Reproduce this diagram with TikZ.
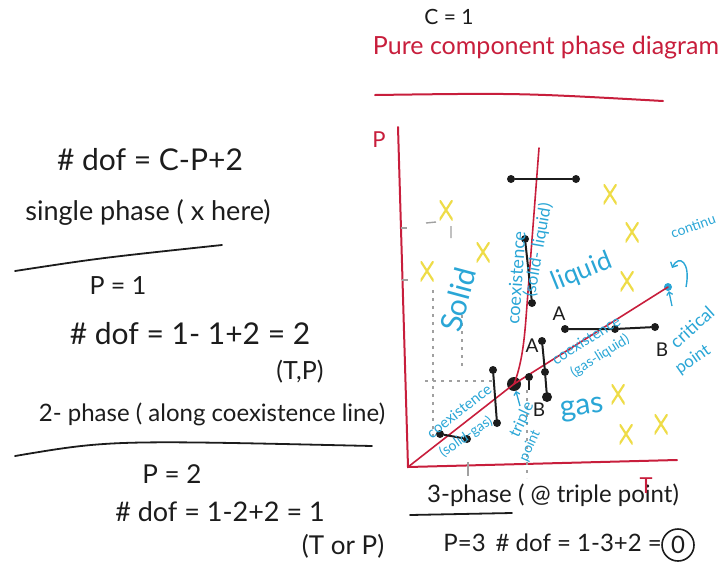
\documentclass[tikz,border=0pt]{standalone}
\usepackage{fontspec}
\setmainfont{Lato}
\usetikzlibrary{arrows.meta}
\definecolor{pen}{HTML}{1C1C1C}
\definecolor{redink}{HTML}{C81E3C}
\definecolor{cyanink}{HTML}{2AA6D6}
\definecolor{yellowink}{HTML}{EEDC48}
\definecolor{grayink}{HTML}{A0A0A0}
\tikzset{
  txt/.style={text=pen, inner sep=0pt, font=\fontsize{#1}{#1}\selectfont},
  txt/.default=24,
  rtxt/.style={text=redink, inner sep=0pt, font=\fontsize{#1}{#1}\selectfont},
  rtxt/.default=24,
  ctxt/.style={text=cyanink, inner sep=0pt, font=\fontsize{#1}{#1}\selectfont},
  ctxt/.default=16,
  penline/.style={draw=pen, line width=1.8pt, line cap=round},
  redline/.style={draw=redink, line width=1.6pt, line cap=round},
  bar/.style={draw=pen, line width=2pt, line cap=round},
  guide/.style={draw=grayink, line width=1.2pt, dash pattern=on 3pt off 5pt},
  bdot/.style={circle, fill=pen, minimum size=8pt, inner sep=0pt},
  bigdot/.style={circle, fill=pen, minimum size=14pt, inner sep=0pt},
  cdot/.style={circle, fill=cyanink, minimum size=8pt, inner sep=0pt},
  xm/.style={minimum width=13pt, minimum height=20pt, inner sep=0pt,
    path picture={\draw[yellowink, line width=2.2pt, line cap=round]
      (path picture bounding box.south west) -- (path picture bounding box.north east)
      (path picture bounding box.north west) -- (path picture bounding box.south east);}},
}
\begin{document}
\begin{tikzpicture}[x=1pt,y=-1pt]
\useasboundingbox (0,0) rectangle (723,582);

% ---------- title ----------
\node[txt=21] (c1) at (449,17) {C = 1};
\node[rtxt=25] (title) at (546,48) {Pure component phase diagram};
\coordinate (tu1) at (375,95);
\coordinate (tu2) at (663,101);
\draw[redline, line width=2pt] (tu1) .. controls (520,93) .. (tu2);

% ---------- left column ----------
\node[txt=30] (dof) at (150,160) {\# dof = C-P+2};
\node[txt=27] (single) at (148,212) {single phase ( x here)};
\coordinate (su1) at (15,271);
\coordinate (su2) at (222,245);
\draw[penline] (su1) .. controls (100,258) .. (su2);
\node[txt=25] (p1) at (118,286) {P = 1};
\node[txt=30] (dof1) at (190,334) {\# dof = 1- 1+2 = 2};
\node[txt=25] (tp) at (300,372) {(T,P)};
\node[txt=24] (two) at (212,414) {2- phase ( along coexistence line)};
\coordinate (tu3) at (15,456);
\coordinate (tu4) at (372,446);
\draw[penline] (tu3) .. controls (110,440) .. (tu4);
\node[txt=26] (p2) at (172,474) {P = 2};
\node[txt=27] (dof2) at (220,512) {\# dof = 1-2+2 = 1};
\node[txt=26] (torp) at (343,546) {(T or P)};

% ---------- bottom right ----------
\node[txt=24] (three) at (553,495) {3-phase ( @ triple point)};
\coordinate (th1) at (410,515);
\coordinate (th2) at (512,513);
\draw[penline] (th1) -- (th2);
\node[txt=24, anchor=east] (dof3) at (662,543) {P=3\hspace{10pt}\# dof = 1-3+2 =};
\node[txt=24, draw=pen, line width=1.6pt, circle, minimum size=32pt] (zero) at (678,545) {0};
\node[rtxt=22] (tlab) at (646,486) {T};

% ---------- axes ----------
\node[rtxt=22] (plab) at (379,140) {P};
\coordinate (ytop) at (398,127);
\coordinate (orig) at (408,467);
\coordinate (xend) at (677,460);
\draw[redline, line width=2pt] (ytop) -- (orig) -- (xend);

% guides
\coordinate (g1a) at (401,228); \coordinate (g1b) at (407,228);
\coordinate (g2a) at (402,280); \coordinate (g2b) at (408,280);
\draw[draw=grayink, line width=1.2pt] (g1a) -- (g1b) (g2a) -- (g2b);
\coordinate (g3a) at (426,223); \coordinate (g3b) at (436,222);
\coordinate (g4a) at (451,226); \coordinate (g4b) at (451,238);
\draw[draw=grayink, line width=1.4pt] (g3a) -- (g3b) (g4a) -- (g4b);
\coordinate (g5a) at (433,290); \coordinate (g5b) at (433,440);
\coordinate (g6a) at (462,315); \coordinate (g6b) at (462,366);
\coordinate (g7a) at (425,381); \coordinate (g7b) at (492,381);
\coordinate (g8a) at (527,390); \coordinate (g8b) at (527,478);
\coordinate (g9a) at (468,462); \coordinate (g9b) at (468,476);
\draw[guide] (g5a) -- (g5b) (g6a) -- (g6b) (g7a) -- (g7b) (g8a) -- (g8b);
\draw[draw=grayink, line width=1.2pt] (g9a) -- (g9b);

% ---------- phase boundaries ----------
\node[bigdot] (tpt) at (514,384) {};
\node[cdot] (cpt) at (668,287) {};
\coordinate (mtop) at (539,148);
\draw[redline] (orig) -- (tpt.center) -- (cpt.center);
\draw[redline] (tpt.center) .. controls (521,366) and (524,345) .. (526,318) -- (mtop);

% ---------- black tie lines ----------
\node[bdot] (h1) at (511,179) {};
\node[bdot] (h2) at (576,179) {};
\draw[bar] (h1) -- (h2);
\node[bdot] (m1) at (525,239) {};
\node[bdot] (m2) at (532,303) {};
\draw[bar] (m1) -- (m2);
\node[bdot] (ab1) at (565,329) {};
\node[bdot] (ab2) at (615,329) {};
\node[bdot] (ab3) at (655,327) {};
\draw[bar] (ab1) -- (ab2) -- (ab3);
\node[txt=19] (la1) at (559,314) {A};
\node[txt=19] (lb1) at (662,350) {B};
\node[bdot] (v1) at (542,341) {};
\node[bdot] (v2) at (545,372) {};
\node[bdot, minimum size=10pt] (v3) at (547,397) {};
\draw[bar] (v1) -- (v2) -- (v3);
\node[txt=19] (la2) at (532,346) {A};
\node[txt=19] (lb2) at (539,410) {B};
\node[bdot] (s1) at (493,370) {};
\node[bdot] (s2) at (497,423) {};
\draw[bar] (s1) -- (s2);
\node[bdot] (e1) at (440,434) {};
\node[bdot] (e2) at (467,439) {};
\draw[bar] (e1) -- (e2);
\node[bdot] (sm) at (529,377) {};
\coordinate (smb) at (529,390);
\draw[draw=pen, line width=1.2pt] (sm) -- (smb);

% ---------- yellow marks ----------
\node[xm] (x1) at (446,210) {};
\node[xm] (x2) at (427,271) {};
\node[xm] (x3) at (483,252) {};
\node[xm] (x4) at (610,194) {};
\node[xm] (x5) at (632,232) {};
\node[xm] (x6) at (627,281) {};
\node[xm] (x7) at (618,394) {};
\node[xm] (x8) at (626,434) {};
\node[xm] (x9) at (661,424) {};

% ---------- cyan labels ----------
\node[ctxt=30, rotate=75] (solid) at (458,300) {Solid};
\node[ctxt=18, rotate=86] (coex1) at (516,278) {coexistence};
\node[ctxt=17, rotate=80] (sl) at (538,250) {(solid- liquid)};
\node[ctxt=26, rotate=22] (liquid) at (582,272) {liquid};
\node[ctxt=15, rotate=32] (coex2) at (586,340) {coexistence};
\node[ctxt=14, rotate=32] (gl) at (600,356) {(gas-liquid)};
\node[ctxt=30, rotate=8] (gas) at (582,410) {gas};
\node[ctxt=15, rotate=38] (coex3) at (459,411) {coexistence};
\node[ctxt=14, rotate=35] (sg) at (466,437) {(solid-gas)};
\node[ctxt=16, rotate=65] (triple) at (522,420) {triple};
\node[ctxt=14, rotate=65] (tpoint) at (530,446) {point};
\node[ctxt=18, rotate=42] (crit) at (692,327) {critical};
\node[ctxt=17, rotate=35] (cpoint) at (693,360) {point};
\node[ctxt=14, rotate=20] (cont) at (693,226) {continu};
\coordinate (tparr) at (520,406);
\draw[draw=cyanink, line width=1.3pt, -{Straight Barb[length=3pt]}] (tparr) -- (tpt);
\coordinate (cparr) at (672,306);
\draw[draw=cyanink, line width=1.3pt, -{Straight Barb[length=3pt]}] (cparr) -- (cpt);
\coordinate (ca1) at (686,287);
\coordinate (ca2) at (672,268);
\draw[draw=cyanink, line width=1.4pt, -{Straight Barb[length=4pt]}] (ca1) .. controls (691,262) and (679,254) .. (ca2);
\end{tikzpicture}
\end{document}
